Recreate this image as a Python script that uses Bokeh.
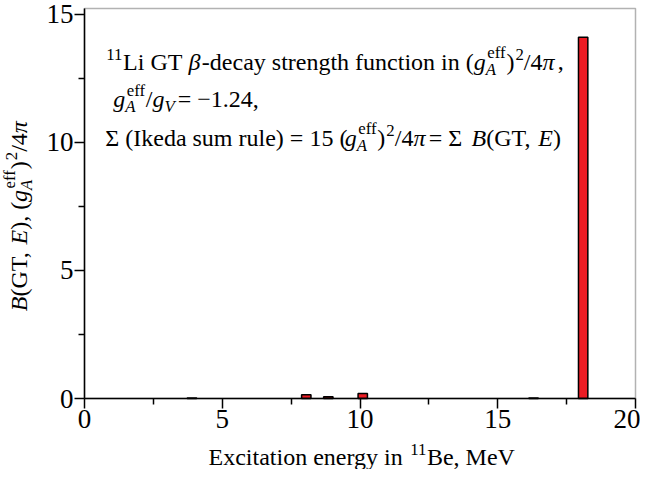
import math
from bokeh.plotting import figure
from bokeh.models import Range1d, FixedTicker, Label, BoxAnnotation
from bokeh.embed import file_html
from bokeh.resources import INLINE

# ---- data ----
energies = [3.9, 8.05, 8.85, 10.1, 16.3, 18.1]
strengths = [0.02, 0.15, 0.07, 0.20, 0.02, 14.1]
x_ticks = [0, 5, 10, 15, 20]
x_minor = [2.5, 7.5, 12.5, 17.5]
y_ticks = [0, 5, 10, 15]
y_minor = [2.5, 7.5, 12.5]
X_LIM = (0, 20)
Y_LIM = (0, 15.22)

FONT = "Liberation Serif"

W, H = 640, 469
FW, FH = 640, 469
BOX_L, BOX_R, BOX_T, BOX_B = 84, 635, 8, 398    # px of the plotting box
SX = (BOX_R - BOX_L) / (X_LIM[1] - X_LIM[0])
SY = (BOX_B - BOX_T) / (Y_LIM[1] - Y_LIM[0])
XR0 = X_LIM[0] - BOX_L / SX
XR1 = X_LIM[1] + (FW - BOX_R) / SX
YR0 = Y_LIM[0] - (FH - BOX_B) / SY
YR1 = Y_LIM[1] + BOX_T / SY
PXX = 1 / SX
PXY = 1 / SY

p = figure(width=W, height=H, x_range=Range1d(XR0, XR1), y_range=Range1d(YR0, YR1),
           output_backend="svg", toolbar_location=None, tools="",
           min_border_left=0, min_border_right=0, min_border_top=0, min_border_bottom=0)
p.grid.visible = False
p.outline_line_color = None
p.background_fill_color = "white"
p.border_fill_color = "white"

for ax, tk, mn, loc, bd in ((p.xaxis[0], x_ticks, x_minor, Y_LIM[0], X_LIM),
                            (p.yaxis[0], y_ticks, y_minor, X_LIM[0], Y_LIM)):
    ax.fixed_location = loc
    ax.bounds = bd
    ax.ticker = FixedTicker(ticks=tk, minor_ticks=mn)
    ax.axis_line_width = 1.5
    ax.major_tick_line_width = 1.5
    ax.minor_tick_line_width = 1.5
    ax.major_tick_in = 0
    ax.major_tick_out = 10
    ax.minor_tick_in = 0
    ax.minor_tick_out = 6
    ax.major_label_text_font = FONT
    ax.major_label_text_font_size = "27px"
    ax.major_label_text_color = "black"
    ax.major_label_standoff = 1

p.add_layout(BoxAnnotation(left=X_LIM[0], right=X_LIM[1], bottom=Y_LIM[0], top=Y_LIM[1],
                           fill_color=None, line_color="black", line_width=1.5))

p.vbar(x=energies, top=strengths, bottom=0, width=0.34,
       fill_color="#ed1c24", line_color="black", line_width=1.5)

# ---- rich text helper ----
WR = {' ': 250, '(': 333, ')': 333, ',': 250, '-': 333, '.': 250, '/': 278, '=': 564,
      'A': 722, 'B': 667, 'E': 611, 'G': 722, 'I': 333, 'L': 611, 'M': 889, 'T': 611, 'V': 722,
      'a': 444, 'c': 444, 'd': 500, 'e': 444, 'f': 333, 'g': 500, 'h': 500, 'i': 278, 'k': 500,
      'l': 278, 'm': 778, 'n': 500, 'o': 500, 'r': 333, 's': 389, 't': 278, 'u': 500, 'x': 500,
      'y': 500, 'Σ': 470, '−': 564, 'β': 500, 'π': 550}
for d in "0123456789":
    WR[d] = 500
WI = {'A': 611, 'B': 611, 'E': 611, 'V': 611, 'g': 500, 'β': 560, 'π': 640}


def tw(s, italic, fs):
    t = WI if italic else WR
    return sum(t.get(c, WR.get(c, 500)) for c in s) / 1000.0 * fs


def put(txt, x, y, fs, italic, angle):
    p.add_layout(Label(x=x, y=y, text=txt, text_font=FONT, text_font_size=f"{fs:.1f}px",
                       text_font_style="italic" if italic else "normal",
                       text_color="black", text_baseline="alphabetic", text_align="left",
                       angle=angle))


def advance(txt, kind, fs):
    small = fs * 0.7
    if kind in ("n", "i"):
        return tw(txt, kind == "i", fs)
    if kind == "sup":
        return tw(txt, False, small) + 1
    if kind == "subi":
        return tw(txt, True, small) + 3
    return max(tw(txt[0], False, small) + 2, tw(txt[1], True, small))


def rich(parts, x, y, fs, rotated=False):
    small = fs * 0.7
    cur = 0.0
    ang = math.pi / 2 if rotated else 0.0

    def pos(along, shift):
        if rotated:
            return x - shift * PXX, y + along * PXY
        return x + along * PXX, y + shift * PXY

    for txt, kind in parts:
        if kind in ("n", "i"):
            put(txt, *pos(cur, 0), fs, kind == "i", ang)
        elif kind == "sup":
            put(txt, *pos(cur + 1, 0.3 * fs), small, False, ang)
        elif kind == "subi":
            put(txt, *pos(cur, -0.3 * fs), small, True, ang)
        elif kind == "stack":
            put(txt[0], *pos(cur + 1.5, 0.36 * fs), small, False, ang)
            put(txt[1], *pos(cur, -0.32 * fs), small, True, ang)
        cur += advance(txt, kind, fs)
    return cur


def measure(parts, fs):
    return sum(advance(t, k, fs) for t, k in parts)


def rx(sx):       # reference x (px) -> data
    return (sx - 86) * (X_LIM[1] - X_LIM[0]) / 557


def ry(sy):       # reference y (px) -> data
    return (410 - sy) * (Y_LIM[1] - Y_LIM[0]) / 408


def cx(px):       # own canvas x -> data
    return XR0 + px * PXX


def cy(py):       # own canvas y -> data
    return YR1 - py * PXY


FS = 24
line1 = [("11", "sup"), ("Li GT ", "n"), ("β", "i"), ("-decay strength function in (", "n"),
         ("g", "i"), (("eff", "A"), "stack"), (")", "n"), ("2", "sup"), ("/4", "n"),
         ("π", "i"), (",", "n")]
line2 = [("g", "i"), (("eff", "A"), "stack"), ("/", "n"), ("g", "i"), ("V", "subi"),
         ("= −1.24,", "n")]
line3 = [("Σ (Ikeda sum rule) = 15 (", "n"), ("g", "i"), (("eff", "A"), "stack"), (")", "n"),
         ("2", "sup"), ("/4", "n"), ("π", "i"), (" = Σ ", "n"), ("B", "i"), ("(GT, ", "n"),
         ("E", "i"), (")", "n")]
rich(line1, rx(107), ry(57.5), FS)
rich(line2, rx(115), ry(97), FS)
rich(line3, rx(107), ry(137), FS)

# axis titles
xlab = [("Excitation energy in ", "n"), ("11", "sup"), ("Be, MeV", "n")]
ylab = [("B", "i"), ("(GT, ", "n"), ("E", "i"), ("), (", "n"), ("g", "i"),
        (("eff", "A"), "stack"), (")", "n"), ("2", "sup"), ("/4", "n"), ("π", "i")]

AFS = 24
rich(xlab, cx(208), cy(456), AFS)
yl = measure(ylab, AFS)
rich(ylab, cx(18), ry(217.5) - yl / 2 * PXY, AFS, rotated=True)

open("out.html", "w").write(file_html(p, INLINE))
